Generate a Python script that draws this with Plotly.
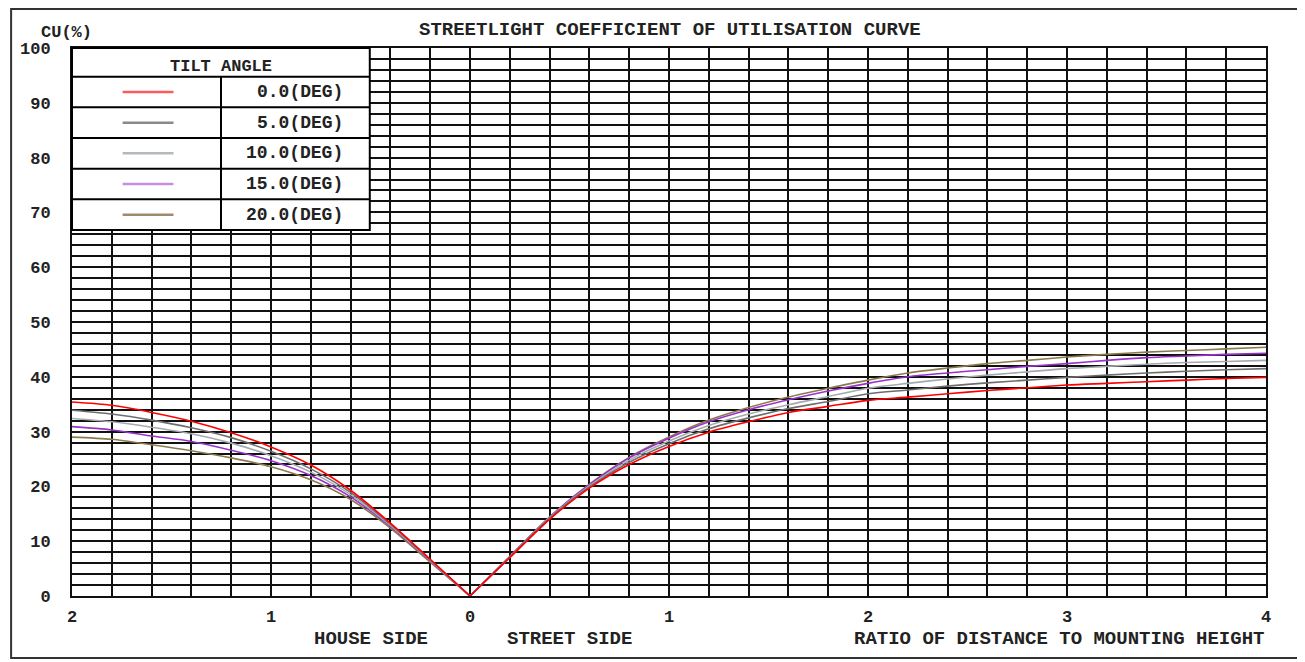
import plotly.graph_objects as go

# ---------------- data ----------------
house_dist = [2.0, 1.8, 1.6, 1.4, 1.2, 1.0, 0.8, 0.6, 0.4, 0.2, 0.0]
street_dist = [0.0, 0.2, 0.4, 0.6, 0.8, 1.0, 1.2, 1.4, 1.6, 1.8, 2.0,
               2.2, 2.4, 2.6, 2.8, 3.0, 3.2, 3.4, 3.6, 3.8, 4.0]

tilt_labels = ["0.0(DEG)", "5.0(DEG)", "10.0(DEG)", "15.0(DEG)", "20.0(DEG)"]

house_cu_0 = [35.4, 34.8, 33.5, 31.9, 29.8, 27.2, 23.9, 19.3, 13.3, 6.7, 0.0]
house_cu_5 = [33.9, 33.2, 32.1, 30.7, 28.9, 26.4, 23.2, 18.9, 13.1, 6.6, 0.0]
house_cu_10 = [32.4, 31.8, 30.8, 29.6, 27.9, 25.6, 22.6, 18.5, 12.9, 6.5, 0.0]
house_cu_15 = [30.9, 30.3, 29.2, 28.2, 26.6, 24.7, 22.0, 18.1, 12.7, 6.4, 0.0]
house_cu_20 = [29.0, 28.6, 27.6, 26.5, 25.2, 23.6, 21.2, 17.6, 12.4, 6.2, 0.0]

street_cu_0 = [0.0, 7.0, 14.0, 19.7, 24.0, 27.3, 29.9, 31.8, 33.5, 34.6, 35.7,
               36.3, 36.9, 37.5, 38.0, 38.5, 38.8, 39.1, 39.4, 39.7, 39.9]
street_cu_5 = [0.0, 7.1, 14.2, 19.9, 24.4, 27.8, 30.5, 32.5, 34.2, 35.5, 36.9,
               37.6, 38.3, 38.9, 39.4, 39.9, 40.3, 40.7, 41.0, 41.3, 41.5]
street_cu_10 = [0.0, 7.1, 14.3, 20.1, 24.8, 28.3, 31.1, 33.2, 34.9, 36.4, 37.9,
                38.8, 39.6, 40.3, 40.9, 41.5, 41.9, 42.3, 42.6, 42.8, 43.0]
street_cu_15 = [0.0, 7.2, 14.4, 20.3, 25.2, 28.8, 31.8, 34.0, 35.8, 37.4, 38.8,
                40.0, 40.7, 41.3, 41.9, 42.4, 43.0, 43.5, 43.8, 44.1, 44.3]
street_cu_20 = [0.0, 7.2, 14.4, 20.4, 25.3, 29.0, 32.1, 34.4, 36.3, 37.9, 39.4,
                40.7, 41.6, 42.4, 43.0, 43.6, 44.1, 44.5, 44.8, 45.1, 45.4]

x_tick_vals = [-2, -1, 0, 1, 2, 3, 4]
x_tick_text = ["2", "1", "0", "1", "2", "3", "4"]
y_tick_vals = [0, 10, 20, 30, 40, 50, 60, 70, 80, 90, 100]

# ---------------- styling ----------------
FONT = "Liberation Mono"
plot_colors = ["#ff0000", "#6e6e6e", "#a4aab0", "#9932cc", "#8b7b4b"]
legend_colors = ["#ff5a5a", "#8a8a8a", "#b4b9bd", "#c690e0", "#9c8c6c"]

house_series = [house_cu_0, house_cu_5, house_cu_10, house_cu_15, house_cu_20]
street_series = [street_cu_0, street_cu_5, street_cu_10, street_cu_15, street_cu_20]

fig = go.Figure()
for i in reversed(range(5)):
    fig.add_trace(go.Scatter(
        x=[-d for d in house_dist], y=house_series[i], mode="lines",
        line=dict(color=plot_colors[i], width=1.6, shape="spline", smoothing=0.8),
        name=tilt_labels[i], showlegend=False, hoverinfo="skip"))
    fig.add_trace(go.Scatter(
        x=street_dist, y=street_series[i], mode="lines",
        line=dict(color=plot_colors[i], width=1.6, shape="spline", smoothing=0.8),
        name=tilt_labels[i], showlegend=False, hoverinfo="skip"))

shapes = []
annotations = []

# outer frame
shapes.append(dict(type="rect", xref="paper", yref="paper",
                   x0=-0.0510, x1=1.0268, y0=-0.1131, y1=1.0710,
                   line=dict(color="#333333", width=2), fillcolor="rgba(0,0,0,0)",
                   layer="below"))

# legend table
lx0, lx1, lsplit = 0.0, 0.2494, 0.1248
ly_top, ly_head, ly_bot = 1.0, 0.9476, 0.6679
row_h = (ly_head - ly_bot) / 5
shapes.append(dict(type="rect", xref="paper", yref="paper", x0=lx0, x1=lx1,
                   y0=ly_bot, y1=ly_top, fillcolor="white",
                   line=dict(color="black", width=2), layer="above"))
shapes.append(dict(type="line", xref="paper", yref="paper", x0=lx0, x1=lx1,
                   y0=ly_head, y1=ly_head, line=dict(color="black", width=2), layer="above"))
shapes.append(dict(type="line", xref="paper", yref="paper", x0=lsplit, x1=lsplit,
                   y0=ly_bot, y1=ly_head, line=dict(color="black", width=2), layer="above"))
annotations.append(dict(text="TILT ANGLE", xref="paper", yref="paper",
                        x=(lx0 + lx1) / 2, y=0.966, xanchor="center", yanchor="middle",
                        showarrow=False,
                        font=dict(family=FONT, size=17, color="#222", weight="bold")))
for i in range(5):
    top = ly_head - i * row_h
    if i > 0:
        shapes.append(dict(type="line", xref="paper", yref="paper", x0=lx0, x1=lx1,
                           y0=top, y1=top, line=dict(color="black", width=2), layer="above"))
    yc = top - row_h / 2
    shapes.append(dict(type="line", xref="paper", yref="paper", x0=0.0424, x1=0.085,
                       y0=yc, y1=yc, line=dict(color=legend_colors[i], width=2.5),
                       layer="above"))
    annotations.append(dict(text=tilt_labels[i], xref="paper", yref="paper",
                            x=0.2285, y=yc, xanchor="right", yanchor="middle",
                            showarrow=False,
                            font=dict(family=FONT, size=18, color="#222", weight="bold")))

# text labels
annotations += [
    dict(text="CU(%)", xref="paper", yref="paper", x=-0.0275, y=1.029,
         xanchor="left", yanchor="middle", showarrow=False,
         font=dict(family=FONT, size=17, color="#222", weight="bold")),
    dict(text="STREETLIGHT COEFFICIENT OF UTILISATION CURVE", xref="paper", yref="paper",
         x=0.5008, y=1.0325, xanchor="center", yanchor="middle", showarrow=False,
         font=dict(family=FONT, size=19, color="#222", weight="bold")),
    dict(text="HOUSE SIDE", xref="paper", yref="paper", x=0.2508, y=-0.079,
         xanchor="center", yanchor="middle", showarrow=False,
         font=dict(family=FONT, size=19, color="#222", weight="bold")),
    dict(text="STREET SIDE", xref="paper", yref="paper", x=0.4164, y=-0.079,
         xanchor="center", yanchor="middle", showarrow=False,
         font=dict(family=FONT, size=19, color="#222", weight="bold")),
    dict(text="RATIO OF DISTANCE TO MOUNTING HEIGHT", xref="paper", yref="paper",
         x=1.0, y=-0.079, xanchor="right", yanchor="middle", showarrow=False,
         font=dict(family=FONT, size=19, color="#222", weight="bold")),
]

# the page body adds an 8px offset; size/margins chosen so the plot area
# lands at page pixels x 70..1266, y 48..596
fig.update_layout(
    width=1297, height=654,
    margin=dict(l=62, r=39, t=40, b=66),
    paper_bgcolor="white", plot_bgcolor="white",
    showlegend=False,
    shapes=shapes, annotations=annotations,
    xaxis=dict(range=[-2, 4], tickvals=x_tick_vals, ticktext=x_tick_text,
               showgrid=True, gridcolor="#111", gridwidth=2,
               minor=dict(dtick=0.2, tick0=0, showgrid=True, gridcolor="#111", gridwidth=2),
               showline=True, linecolor="#111", linewidth=2, mirror=True,
               zeroline=False, ticks="", ticklabelstandoff=4,
               tickfont=dict(family=FONT, size=17, color="#222", weight="bold")),
    yaxis=dict(range=[0, 100], tickvals=y_tick_vals,
               showgrid=True, gridcolor="#111", gridwidth=2,
               minor=dict(dtick=2, tick0=0, showgrid=True, gridcolor="#111", gridwidth=2),
               showline=True, linecolor="#111", linewidth=2, mirror=True,
               zeroline=False, ticks="", ticklabelstandoff=16,
               tickfont=dict(family=FONT, size=17, color="#222", weight="bold")),
)

fig.write_html("out.html")
